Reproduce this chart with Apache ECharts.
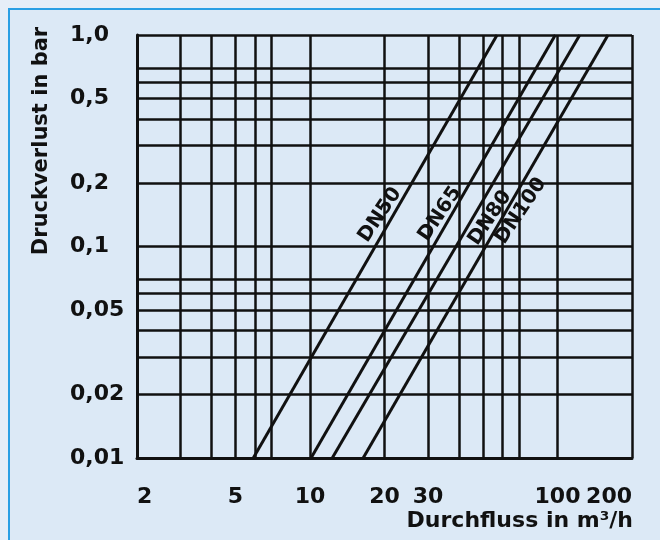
<!DOCTYPE html>
<html><head><meta charset="utf-8">
<script src="https://cdn.jsdelivr.net/npm/echarts@6/dist/echarts.min.js"></script>
<style>html,body{margin:0;padding:0;background:#e6eef8}#c{width:660px;height:540px}</style>
</head><body><div id="c"></div>
<script>
// Grid lines drawn on the reference (log axes)
const xGridValues = [2, 3, 4, 5, 6, 7, 10, 20, 30, 40, 50, 60, 70, 100, 200];
const yGridValues = [0.01, 0.02, 0.03, 0.04, 0.05, 0.06, 0.07, 0.1, 0.2, 0.3, 0.4, 0.5, 0.6, 0.7, 1.0];
// Tick labels
const xTickValues = [2, 5, 10, 20, 30, 100, 200];
const xTickText = ['2', '5', '10', '20', '30', '100', '200'];
const yTickValues = [0.01, 0.02, 0.05, 0.1, 0.2, 0.5, 1.0];
const yTickText = ['0,01', '0,02', '0,05', '0,1', '0,2', '0,5', '1,0'];
// Series: [flow m3/h, pressure loss bar]
const seriesNames = ['DN50', 'DN65', 'DN80', 'DN100'];
const dn50 = [[5.9, 0.01], [57, 1.0]];
const dn65 = [[10.1, 0.01], [98, 1.0]];
const dn80 = [[12.3, 0.01], [123, 1.0]];
const dn100 = [[16.4, 0.01], [160, 1.0]];
const seriesData = [dn50, dn65, dn80, dn100];

const xTitle = 'Durchfluss in m³/h';
const yTitle = 'Druckverlust in bar';

function lookup(vals, texts, v) {
  let best = 0, bd = Infinity;
  vals.forEach((a, i) => { const d = Math.abs(Math.log(a) - Math.log(v)); if (d < bd) { bd = d; best = i; } });
  return texts[best];
}

const FONT = 'DejaVu Sans';
const INK = '#111';
const gridLineStyle = { color: INK, width: 2.5 };
const labelPos = [[380, 215], [440, 214], [490, 218], [521, 211]];

const chart = echarts.init(document.getElementById('c'), null, { renderer: 'canvas' });
chart.setOption({
  backgroundColor: '#e6eef8',
  animation: false,
  grid: { left: 137, right: 28, top: 35, bottom: 82, containLabel: false },
  xAxis: {
    type: 'log', logBase: 10, min: 2, max: 200,
    axisLine: { show: true, lineStyle: { color: INK, width: 3 } },
    axisTick: { show: false, customValues: xGridValues },
    splitLine: { show: true, lineStyle: gridLineStyle },
    minorSplitLine: { show: false },
    axisLabel: {
      customValues: xTickValues, margin: 28,
      fontFamily: FONT, fontWeight: 'bold', fontSize: 22, color: INK,
      alignMinLabel: 'left', alignMaxLabel: 'right',
      formatter: v => lookup(xTickValues, xTickText, v)
    }
  },
  yAxis: {
    type: 'log', logBase: 10, min: 0.01, max: 1,
    axisLine: { show: true, lineStyle: { color: INK, width: 3 } },
    axisTick: { show: false, customValues: yGridValues },
    splitLine: { show: true, lineStyle: gridLineStyle },
    minorSplitLine: { show: false },
    axisLabel: {
      customValues: yTickValues, margin: 67, align: 'left',
      fontFamily: FONT, fontWeight: 'bold', fontSize: 22, color: INK,
      formatter: v => lookup(yTickValues, yTickText, v)
    }
  },
  series: seriesNames.map((name, i) => ({
    name, type: 'line', data: seriesData[i], symbol: 'none',
    lineStyle: { color: INK, width: 3 }, z: 3
  })),
  graphic: [
    { type: 'rect', z: -100, silent: true, shape: { x: 9, y: 9, width: 700, height: 600 },
      style: { fill: '#dce9f6', stroke: '#2b9fe4', lineWidth: 2 } },
    { type: 'text', x: 42, y: 141, rotation: Math.PI / 2,
      style: { text: yTitle, fontFamily: FONT, fontWeight: 'bold', fontSize: 21, fill: INK, align: 'center', verticalAlign: 'middle' } },
    { type: 'text', x: 633, y: 521,
      style: { text: xTitle, fontFamily: FONT, fontWeight: 'bold', fontSize: 22, fill: INK, align: 'right', verticalAlign: 'middle' } }
  ].concat(seriesNames.map((name, i) => ({
    type: 'text', x: labelPos[i][0], y: labelPos[i][1], rotation: 56 * Math.PI / 180,
    style: { text: name, fontFamily: FONT, fontWeight: 'bold', fontSize: 20, fill: INK, align: 'center', verticalAlign: 'middle' }
  })))
});
</script></body></html>
